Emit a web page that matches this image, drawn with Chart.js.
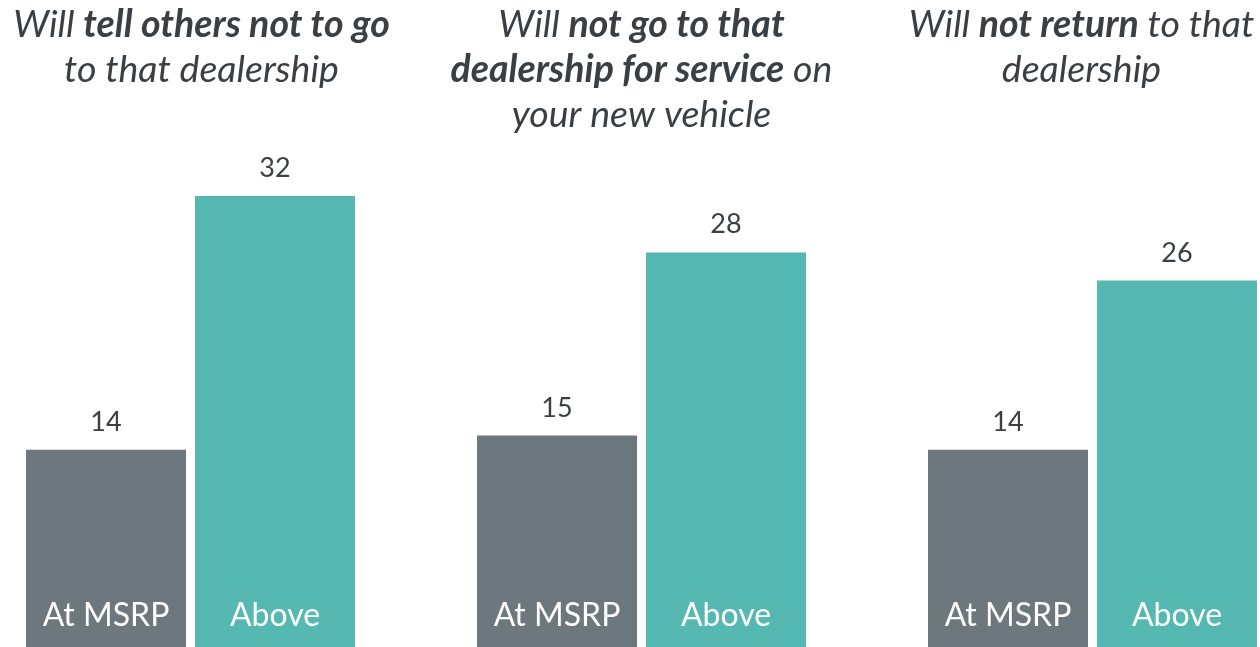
<!DOCTYPE html>
<html>
<head>
<meta charset="utf-8">
<script src="https://cdn.jsdelivr.net/npm/chart.js@4.4.1/dist/chart.umd.min.js"></script>
<style>
  html, body { margin: 0; padding: 0; background: #ffffff; overflow: hidden; }
  #wrap { position: relative; width: 1260px; height: 647px; overflow: hidden; }
  #Dealer_Chart { position: absolute; left: -35px; top: 0; }
</style>
</head>
<body>
<div id="wrap">
  <canvas id="Dealer_Chart" width="1353" height="647"></canvas>
</div>
<script>
var categories = ["Tell others not to go", "Not go for service", "Not return"];
var seriesNames = ["At MSRP", "Above"];
var atMsrpValues = [14, 15, 14];
var aboveValues = [32, 28, 26];

// title lines, each a list of [text, bold] runs
var titleLines = [
    [[["Will ", false], ["tell others not to go", true]], [["to that dealership", false]]],
    [[["Will ", false], ["not go to that", true]], [["dealership for service", true], [" on", false]], [["your new vehicle", false]]],
    [[["Will ", false], ["not return", true], [" to that", false]], [["dealership", false]]]
];

var textColor = '#3a3f44';

var labelsPlugin = {
    id: 'barLabels',
    afterDatasetsDraw: function (chart) {
        var ctx = chart.ctx;
        ctx.save();
        chart.data.datasets.forEach(function (ds, di) {
            var meta = chart.getDatasetMeta(di);
            meta.data.forEach(function (bar, i) {
                // value above bar
                ctx.font = '27px Lato';
                ctx.fillStyle = textColor;
                ctx.textAlign = 'center';
                ctx.textBaseline = 'alphabetic';
                ctx.fillText(String(ds.data[i]), bar.x, bar.y - 19);
                // series name inside bar
                ctx.font = '32px Lato';
                ctx.fillStyle = '#ffffff';
                ctx.fillText(ds.label, bar.x, chart.chartArea.bottom - 21);
            });
        });

        // group titles
        var mid = (chart.chartArea.left + chart.chartArea.right) / 2;
        titleLines.forEach(function (lines, g) {
            var cx = mid + (g - 1) * 440;
            lines.forEach(function (runs, li) {
                var total = 0;
                runs.forEach(function (r) {
                    ctx.font = (r[1] ? 'italic bold ' : 'italic ') + '37.5px Lato';
                    total += ctx.measureText(r[0]).width;
                });
                var x = cx - total / 2;
                ctx.textAlign = 'left';
                ctx.fillStyle = textColor;
                runs.forEach(function (r) {
                    ctx.font = (r[1] ? 'italic bold ' : 'italic ') + '37.5px Lato';
                    ctx.fillText(r[0], x, 37 + li * 45);
                    x += ctx.measureText(r[0]).width;
                });
            });
        });
        ctx.restore();
    }
};

function getChartJs() {
    var config = {
        type: 'bar',
        data: {
            labels: categories,
            datasets: [{
                label: seriesNames[0],
                data: atMsrpValues,
                backgroundColor: '#6c777e',
                borderWidth: 0
            }, {
                label: seriesNames[1],
                data: aboveValues,
                backgroundColor: '#55b8b1',
                borderWidth: 0
            }]
        },
        options: {
            responsive: false,
            animation: false,
            categoryPercentage: 338 / 451,
            barPercentage: 160 / 169,
            layout: { padding: { top: 196, left: 0, right: 0, bottom: 0 } },
            plugins: {
                legend: { display: false },
                tooltip: { enabled: false }
            },
            scales: {
                x: { display: false },
                y: { display: false, min: 0, max: 32 }
            }
        },
        plugins: [labelsPlugin]
    };
    return config;
}

Promise.all([
    document.fonts.load('27px Lato'),
    document.fonts.load('italic 37.5px Lato'),
    document.fonts.load('italic bold 37.5px Lato')
]).catch(function () {}).then(function () {
    new Chart(document.getElementById("Dealer_Chart").getContext("2d"), getChartJs());
});
</script>
</body>
</html>
